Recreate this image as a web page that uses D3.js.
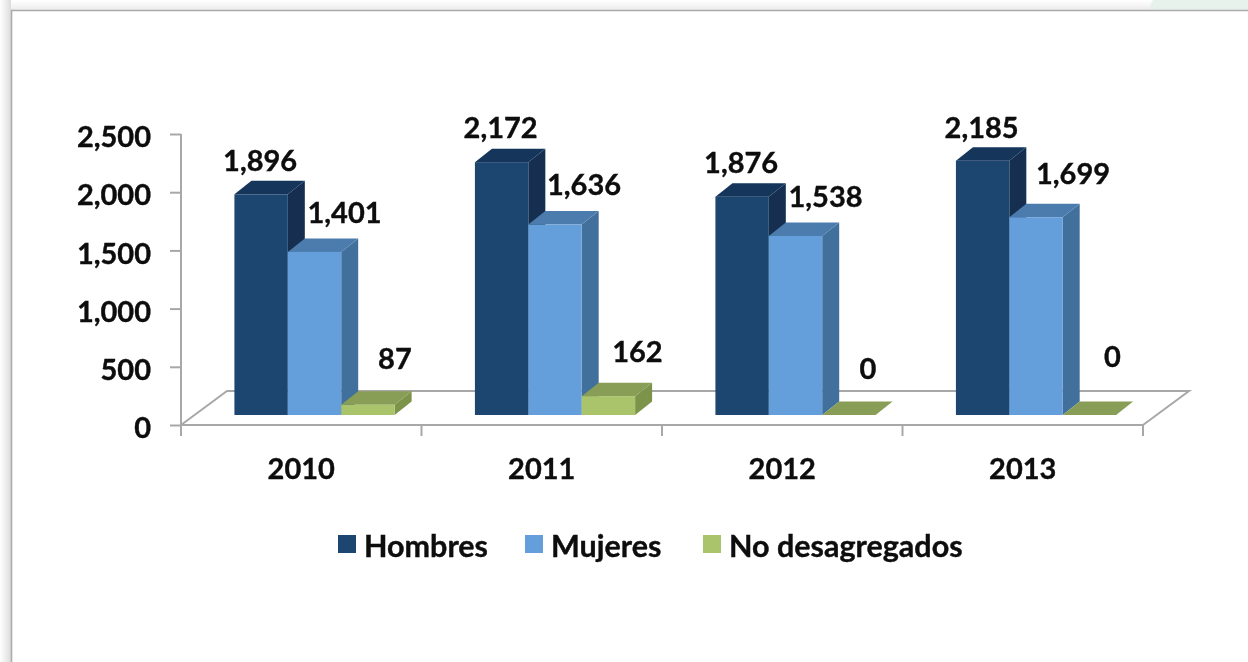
<!DOCTYPE html>
<html>
<head>
<meta charset="utf-8">
<script src="https://cdn.jsdelivr.net/npm/d3@7"></script>
<style>
    html, body { margin: 0; padding: 0; background: #fff; overflow: hidden; }
    svg { display: block; }
    text { font-family: Lato, "Open Sans", sans-serif; font-weight: 700; fill: #0a0a0a; stroke: #0a0a0a; stroke-width: 0.35px; }
</style>
</head>
<body>
<svg id="chart"></svg>
<script>
(function() {
    // Data
    const years = ["2010", "2011", "2012", "2013"];
    const seriesNames = ["Hombres", "Mujeres", "No desagregados"];
    const hombres = [1896, 2172, 1876, 2185];
    const mujeres = [1401, 1636, 1538, 1699];
    const noDesagregados = [87, 162, 0, 0];
    const yTicks = [0, 500, 1000, 1500, 2000, 2500];

    const seriesValues = [hombres, mujeres, noDesagregados];

    // front, side and top colours of each series
    const frontColors = ["#1b4470", "#659fdb", "#a9c46a"];
    const sideColors = ["#122f4f", "#426f9d", "#7b9449"];
    const topColors = ["#16365a", "#4b7cad", "#889d54"];

    // Nudges for the data labels, per series then per year
    const labelDx = [[-1, -1, -1, -1], [30, 29, 30, 37], [27, 29, 19, 23]];
    const labelDy = [[-23, -24, -24, -23], [-29, -30, -29, -33], [-36, -34, -36, -48]];

    const width = 1248, height = 662;
    const axisLeft = 181, axisRight = 1143, axisBase = 425, axisTop = 134;

    // 3D offsets: floor depth, bar depth and where the bars stand on the floor
    const floorDx = 46, floorDy = -34;
    const barDx = 17, barDy = -13.5;
    const standDx = 13.5, standDy = -10;

    const svg = d3.select("#chart").attr("width", width).attr("height", height);

    // Page frame of the screenshot
    const defs = svg.append("defs");
    const shadow = defs.append("linearGradient").attr("id", "leftShadow");
    shadow.append("stop").attr("offset", "0%").attr("stop-color", "#ffffff");
    shadow.append("stop").attr("offset", "100%").attr("stop-color", "#dcdcdc");
    const topShadow = defs.append("linearGradient").attr("id", "topShadow")
        .attr("x1", 0).attr("x2", 0).attr("y1", 0).attr("y2", 1);
    topShadow.append("stop").attr("offset", "0%").attr("stop-color", "#ffffff");
    topShadow.append("stop").attr("offset", "100%").attr("stop-color", "#ececec");

    // The reference is a slightly soft upscaled screenshot
    defs.append("filter").attr("id", "soft")
        .attr("filterUnits", "userSpaceOnUse")
        .attr("x", 0).attr("y", 0).attr("width", width).attr("height", height)
        .append("feGaussianBlur").attr("stdDeviation", 0.45);

    svg.append("rect").attr("width", width).attr("height", 10).attr("fill", "url(#topShadow)");
    svg.append("rect").attr("width", 11).attr("height", height).attr("fill", "url(#leftShadow)");
    svg.append("path").attr("d", "M1153,0L1248,0L1248,10L1148,10Z").attr("fill", "#e8f2ed");
    svg.append("path")
        .attr("d", "M11.5," + height + "L11.5,10.5L" + width + ",10.5")
        .attr("fill", "none").attr("stroke", "#ababab").attr("stroke-width", 1.6);

    const chart = svg.append("g").attr("filter", "url(#soft)");

    // Scales
    const x = d3.scaleBand().domain(years).range([axisLeft, axisRight]);
    const y = d3.scaleLinear().domain([0, 2500]).range([axisBase, axisTop]);
    const inner = d3.scaleBand().domain(seriesNames)
        .range([x.bandwidth() * 0.166, x.bandwidth() * 0.832]);

    // Floor
    chart.append("path")
        .attr("d", "M" + axisLeft + "," + axisBase
            + "L" + (axisLeft + floorDx) + "," + (axisBase + floorDy)
            + "L" + (axisRight + floorDx) + "," + (axisBase + floorDy)
            + "L" + axisRight + "," + axisBase)
        .attr("fill", "none").attr("stroke", "#a8a8a8").attr("stroke-width", 2);

    // Axes
    const yAxis = chart.append("g")
        .attr("transform", "translate(" + axisLeft + ",0)")
        .call(d3.axisLeft(y).tickValues(yTicks).tickSize(11).tickPadding(19)
            .tickFormat(d3.format(",")));
    const xAxis = chart.append("g")
        .attr("transform", "translate(0," + axisBase + ")")
        .call(d3.axisBottom(x).tickSize(11).tickPadding(22));

    // d3 puts ticks at band centres, the reference has them on the band edges
    xAxis.selectAll(".tick line")
        .attr("x1", -x.bandwidth() / 2).attr("x2", -x.bandwidth() / 2);
    xAxis.append("line")
        .attr("x1", axisRight).attr("x2", axisRight)
        .attr("y1", 0).attr("y2", 11)
        .attr("stroke", "currentColor");

    [yAxis, xAxis].forEach(function(axis) {
        axis.selectAll("path.domain, line").attr("stroke", "#a8a8a8").attr("stroke-width", 2);
        axis.select("path.domain").attr("d", axis === yAxis
            ? "M0," + axisTop + "V" + axisBase
            : "M" + axisLeft + ",0H" + axisRight);
        axis.selectAll("text").attr("fill", "#0a0a0a").style("font-size", "29px")
            .style("font-family", "Lato").style("font-weight", 700);
    });
    yAxis.selectAll("text").attr("dy", "0.44em");

    // Bars
    seriesNames.forEach(function(name, s) {
        const values = seriesValues[s];
        const group = chart.append("g");
        years.forEach(function(year, i) {
            const x0 = x(year) + inner(name) + standDx;
            const x1 = x0 + inner.bandwidth();
            const yTopFront = y(values[i]) + standDy;
            const yBase = y(0) + standDy;

            group.append("path")
                .attr("d", "M" + x1 + "," + yBase + "L" + (x1 + barDx) + "," + (yBase + barDy)
                    + "L" + (x1 + barDx) + "," + (yTopFront + barDy) + "L" + x1 + "," + yTopFront + "Z")
                .attr("fill", sideColors[s]);
            group.append("path")
                .attr("d", "M" + x0 + "," + yTopFront + "L" + (x0 + barDx) + "," + (yTopFront + barDy)
                    + "L" + (x1 + barDx) + "," + (yTopFront + barDy) + "L" + x1 + "," + yTopFront + "Z")
                .attr("fill", topColors[s]);
            group.append("rect")
                .attr("x", x0).attr("y", yTopFront)
                .attr("width", inner.bandwidth())
                .attr("height", yBase - yTopFront)
                .attr("fill", frontColors[s]);
        });
    });

    // Data labels
    seriesNames.forEach(function(name, s) {
        chart.append("g").selectAll("text")
            .data(seriesValues[s])
            .enter()
            .append("text")
            .attr("x", (d, i) => x(years[i]) + inner(name) + standDx + inner.bandwidth() / 2 + labelDx[s][i])
            .attr("y", (d, i) => y(d) + standDy + labelDy[s][i])
            .style("text-anchor", "middle")
            .style("font-size", "29px")
            .text(d3.format(","));
    });

    // Legend
    const legendX = [338, 525, 703];
    const legend = chart.append("g").selectAll("g")
        .data(seriesNames)
        .enter()
        .append("g")
        .attr("transform", (d, i) => "translate(" + legendX[i] + ",535)");
    legend.append("rect")
        .attr("width", 18).attr("height", 18)
        .attr("fill", (d, i) => frontColors[i]);
    legend.append("text")
        .attr("x", 26).attr("y", 22)
        .style("font-size", "30.5px")
        .text((d) => d);
})();
</script>
</body>
</html>
